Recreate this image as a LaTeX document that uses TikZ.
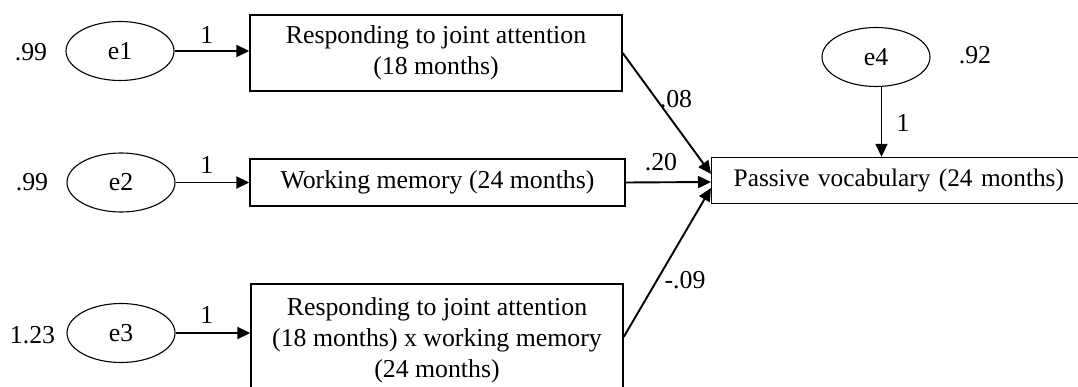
\documentclass[tikz,border=0pt]{standalone}
\usepackage{fontspec}
\setmainfont{Liberation Serif}
\usetikzlibrary{shapes.geometric,arrows.meta,calc}
\begin{document}
\begin{tikzpicture}[x=1pt,y=-1pt,
  every node/.style={font=\fontsize{25.8}{31}\selectfont},
  err/.style={draw,ellipse,line width=1.1pt,minimum width=108,minimum height=59,inner sep=0},
  obs/.style={draw,rectangle,line width=1.4pt,align=center,inner sep=0},
  lbl/.style={inner sep=0},
  arr/.style={line width=1.9pt,-{Triangle[length=13pt,width=12pt]}}]
\clip (0,0) rectangle (1078,387);
\fill[white] (0,0) rectangle (1078,387);
% error terms
\node[err] (e1) at (120,51) {e1};
\node[err] (e2) at (121,182.5) {e2};
\node[err] (e3) at (121,333) {e3};
\node[err] (e4) at (876,57) {e4};
% observed variables
\node[obs,minimum width=372,minimum height=76] (b1) at (436,53) {Responding to joint attention\\(18 months)};
\node[obs,minimum width=375,minimum height=47] (b2) at (437.5,182.5) {Working memory (24 months)};
\node[obs,minimum width=372,minimum height=112] (b3) at (437,340) {Responding to joint attention\\(18 months) x working memory\\(24 months)};
\node[obs,minimum height=46,text width=350,align=left,inner xsep=22,anchor=west,font=\fontsize{25.3}{31}\selectfont] (pv) at (711,180.5) {Passive vocabulary (24 months)};
% variances
\node[lbl] (v1) at (31,52) {.99};
\node[lbl] (v2) at (32,182) {.99};
\node[lbl] (v3) at (32.5,335) {1.23};
\node[lbl] (v4) at (975,55) {.92};
% arrows from errors
\draw[arr] (e1.east) -- (e1.east -| b1.west);
\draw[arr] (e2.east) -- (e2.east -| b2.west);
\draw[arr] (e3.east) -- (e3.east -| b3.west);
\coordinate (e4s) at ($(e4.south)+(5.5,0)$);
\draw[arr] (e4s) -- (e4s |- pv.north);
\node[lbl] (l1) at (206.7,35) {1};
\node[lbl] (l2) at (206.7,165) {1};
\node[lbl] (l3) at (206.7,315) {1};
\node[lbl] (l4) at (903,123) {1};
% paths
\coordinate (p1) at ($(pv.west)+(0,-6.5)$);
\coordinate (p2) at ($(pv.west)+(0,1.5)$);
\coordinate (p3) at ($(pv.west)+(0,7.5)$);
\coordinate (s3) at ($(b3.east)+(0,-3)$);
\draw[arr] (b1.east) -- (p1);
\draw[arr] (b2.east) -- (p2);
\draw[arr] (s3) -- (p3);
\node[lbl] (c1) at (676,99) {.08};
\node[lbl] (c2) at (661,162) {.20};
\node[lbl] (c3) at (685,280) {-.09};
\end{tikzpicture}
\end{document}
